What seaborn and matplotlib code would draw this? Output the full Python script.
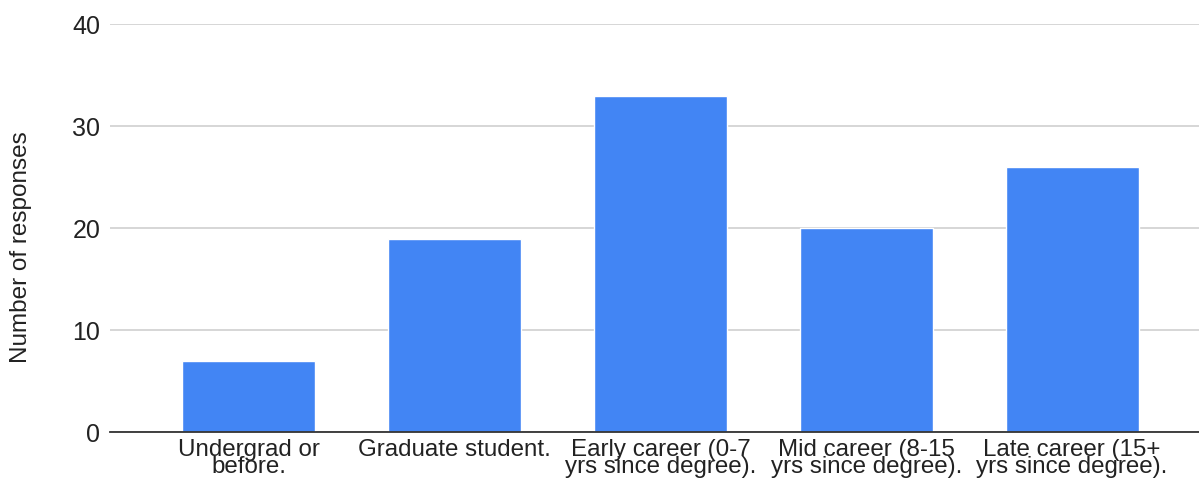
import matplotlib
matplotlib.use("Agg")
import matplotlib.pyplot as plt
import seaborn as sns
import pandas as pd

categories = ["Undergrad or\nbefore.", "Graduate student.", "Early career (0-7\nyrs since degree).",
              "Mid career (8-15\nyrs since degree).", "Late career (15+\nyrs since degree)."]
responses = [7, 19, 33, 20, 26]
yticks = [0, 10, 20, 30, 40]

sns.set_theme(style="white")
plt.rcParams['font.family'] = ['Liberation Sans', 'DejaVu Sans']

df = pd.DataFrame({"cat": categories, "n": responses})

fig = plt.figure(figsize=(11.99, 4.8), dpi=100)
ax = fig.add_axes([110/1199, (480-432.3)/480, 1089/1199, (432.3-24.3)/480])

sns.barplot(data=df, x="cat", y="n", color="#4285F4", saturation=1, width=0.646, ax=ax, zorder=3)

ax.set_ylim(0, 40)
ax.set_xlim(-0.675, 4.617)
ax.set_yticks(yticks)
ax.yaxis.grid(True, color="#cccccc", linewidth=1.1, zorder=0)
ax.set_axisbelow(True)
for s in ["top", "right", "left"]:
    ax.spines[s].set_visible(False)
ax.spines["bottom"].set_color("#333333")
ax.spines["bottom"].set_linewidth(1.3)
ax.spines["bottom"].set_zorder(4)

ax.tick_params(axis="y", length=0, pad=7, labelsize=18, labelcolor="#222222")
ax.tick_params(axis="x", length=0, pad=5, labelsize=17.4, labelcolor="#222222")
for lbl in ax.get_xticklabels():
    lbl.set_linespacing(0.7)

ax.set_xlabel("")
ax.set_ylabel("Number of responses", fontsize=17.5, color="#222222")
ax.yaxis.set_label_coords(-0.072, 0.455)

fig.savefig("out.png", dpi=100)
